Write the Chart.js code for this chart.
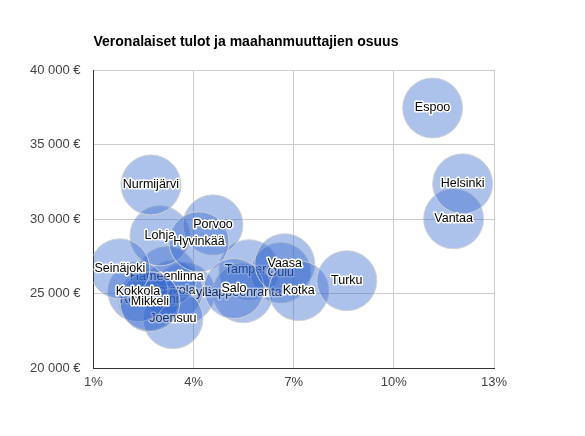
<!DOCTYPE html>
<html>
<head>
<meta charset="utf-8">
<script src="https://cdn.jsdelivr.net/npm/chart.js@4"></script>
<style>
  body { margin: 0; background: #fff; }
  #kaavio { display: block; }
</style>
</head>
<body>
<canvas id="kaavio" width="585" height="436"></canvas>
<script>
// kaupungit piirtojärjestyksessä (ensimmäinen piirretään alimmaksi)
const kaupungit = [
    "Tampere", "Jyväskylä", "Oulu", "Kouvola", "Rovaniemi", "Hämeenlinna",
    "Joensuu", "Lappeenranta", "Lohja", "Porvoo", "Hyvinkää", "Salo",
    "Vaasa", "Kotka", "Turku", "Kokkola", "Mikkeli", "Seinäjoki",
    "Nurmijärvi", "Espoo", "Vantaa", "Helsinki"
];
// maahanmuuttajien osuus (%)
const osuus = [
    5.66, 3.74, 6.61, 3.38, 2.66, 3.20,
    3.38, 5.48, 2.99, 4.58, 4.16, 5.21,
    6.73, 7.15, 8.59, 2.33, 2.69, 1.79,
    2.72, 11.16, 11.79, 12.06
];
// veronalaiset tulot (€)
const tulot = [
    26600, 25050, 26390, 25190, 24580, 26130,
    23310, 25050, 28870, 29610, 28470, 25330,
    27000, 25190, 25860, 25120, 24450, 26660,
    32290, 37450, 30010, 32360
];
const xTicks = [1, 4, 7, 10, 13];
const yTicks = [20000, 25000, 30000, 35000, 40000];

const FONT = "Arial, 'Liberation Sans', sans-serif";
const ALLA = 8; // näin monen ensimmäisen nimi jää myöhempien kuplien alle

function euro(v) {
    return String(v).replace(/\B(?=(\d{3})+(?!\d))/g, " ") + " €";
}

function piirraNimi(chart, i) {
    const p = chart.getDatasetMeta(i).data[0];
    if (!p) return;
    const ctx = chart.ctx;
    ctx.save();
    ctx.font = "12.5px " + FONT;
    ctx.textAlign = "center";
    ctx.textBaseline = "middle";
    ctx.lineJoin = "round";
    ctx.lineWidth = 3;
    ctx.strokeStyle = "#fff";
    ctx.strokeText(kaupungit[i], p.x, p.y);
    ctx.fillStyle = "#000";
    ctx.fillText(kaupungit[i], p.x, p.y);
    ctx.restore();
}

const nimet = {
    id: "nimet",
    afterDatasetDraw(chart, args) {
        if (args.index < ALLA) piirraNimi(chart, args.index);
    },
    afterDatasetsDraw(chart) {
        for (let i = ALLA; i < kaupungit.length; i++) piirraNimi(chart, i);
    }
};

const otsikko = {
    id: "otsikko",
    afterDraw(chart) {
        const ctx = chart.ctx;
        ctx.save();
        ctx.font = "bold 14px " + FONT;
        ctx.fillStyle = "#000";
        ctx.textAlign = "left";
        ctx.textBaseline = "middle";
        ctx.fillText("Veronalaiset tulot ja maahanmuuttajien osuus", chart.chartArea.left, 42);
        ctx.restore();
    }
};

const datasets = kaupungit.map((k, i) => ({
    label: k,
    data: [{ x: osuus[i], y: tulot[i], r: 30 }],
    backgroundColor: "rgba(51, 102, 204, 0.4)",
    borderColor: "rgba(210, 210, 210, 0.9)",
    borderWidth: 1,
    hoverRadius: 0,
    clip: 0,
    order: kaupungit.length - i
}));

new Chart(document.getElementById("kaavio"), {
    type: "bubble",
    data: { datasets: datasets },
    plugins: [nimet, otsikko],
    options: {
        responsive: false,
        animation: false,
        events: [],
        layout: { padding: { top: 70, right: 91, bottom: 30, left: 0 } },
        plugins: {
            legend: { display: false },
            tooltip: { enabled: false },
            title: { display: false }
        },
        scales: {
            x: {
                type: "linear",
                min: 1,
                max: 13,
                afterFit: s => { s.height = 38; },
                afterBuildTicks: s => { s.ticks = xTicks.map(v => ({ value: v })); },
                ticks: {
                    callback: v => v + "%",
                    font: { size: 13, family: FONT },
                    color: "#444",
                    padding: 7,
                    maxRotation: 0
                },
                grid: { color: "#ccc", drawTicks: false },
                border: { color: "#333", width: 1 }
            },
            y: {
                type: "linear",
                min: 20000,
                max: 40000,
                afterFit: s => { s.width = 93.5; },
                afterBuildTicks: s => { s.ticks = yTicks.map(v => ({ value: v })); },
                ticks: {
                    callback: v => euro(v),
                    font: { size: 13, family: FONT },
                    color: "#444",
                    padding: 13
                },
                grid: { color: "#ccc", drawTicks: false },
                border: { color: "#333", width: 1 }
            }
        }
    }
});
</script>
</body>
</html>
